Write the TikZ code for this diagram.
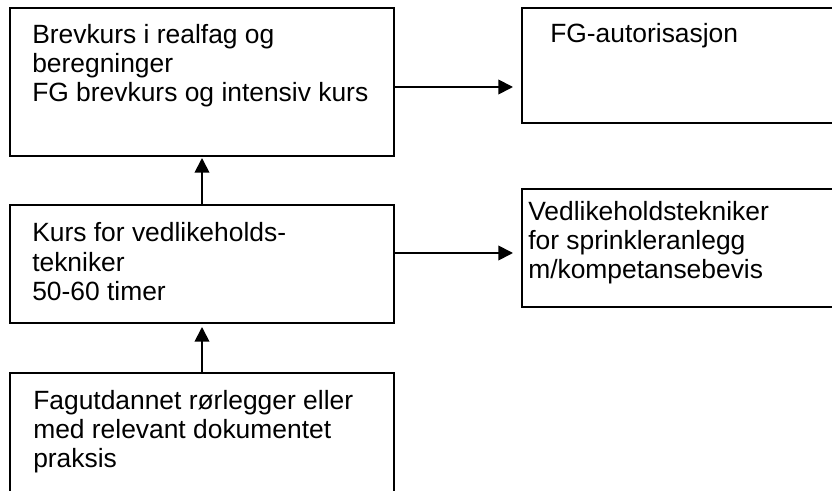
\documentclass[tikz,border=0pt]{standalone}
\usepackage{fontspec}
\setmainfont{Liberation Sans}
\usetikzlibrary{arrows.meta}
\begin{document}
\begin{tikzpicture}[x=0.75pt,y=-0.75pt,
  box/.style={draw=black,line width=1.4pt,rectangle,inner sep=0pt,outer sep=0pt,fill=white},
  lbl/.style={inner sep=0pt,anchor=base west,align=left,font=\fontsize{19.8}{22.1}\selectfont},
  arr/.style={line width=1.3pt,-{Triangle[length=11pt,width=11pt]}}]
\useasboundingbox (0,0) rectangle (832,491);
\fill[white] (0,0) rectangle (832,491);
\clip (0,0) rectangle (832,491);
% boxes
\node[box,minimum width=288pt,minimum height=111pt] (b1) at (202,82) {};
\node[box,minimum width=283.5pt,minimum height=86.25pt] (b2) at (711,65.5) {};
\node[box,minimum width=288pt,minimum height=88.5pt] (b3) at (202,264) {};
\node[box,minimum width=283.5pt,minimum height=88.5pt] (b4) at (711,248) {};
\node[box,minimum width=288pt,minimum height=125.25pt] (b5) at (202,456.5) {};
% texts (anchor = baseline of the last line)
\node[lbl] (t1) at (32,102) {Brevkurs i realfag og\\beregninger\\FG brevkurs og intensiv kurs};
\node[lbl] (t2) at (550,43) {FG-autorisasjon};
\node[lbl] (t3) at (32,300.5) {Kurs for vedlikeholds-\\tekniker\\50-60 timer};
\node[lbl] (t4) at (528,279) {Vedlikeholdstekniker\\for sprinkleranlegg\\m/kompetansebevis};
\node[lbl] (t5) at (33,468) {Fagutdannet rørlegger eller\\med relevant dokumentet\\praksis};
% connectors
\coordinate (y1) at (0,87);
\coordinate (y2) at (0,253);
\draw[arr] (b1.east |- y1) -- ([xshift=-6.75pt]b2.west |- y1);
\draw[arr] (b3.east |- y2) -- ([xshift=-6.75pt]b4.west |- y2);
\draw[arr] (b3.north) -- ([yshift=-1.5pt]b1.south);
\draw[arr] (b5.north) -- ([yshift=-3pt]b3.south);
\end{tikzpicture}
\end{document}
